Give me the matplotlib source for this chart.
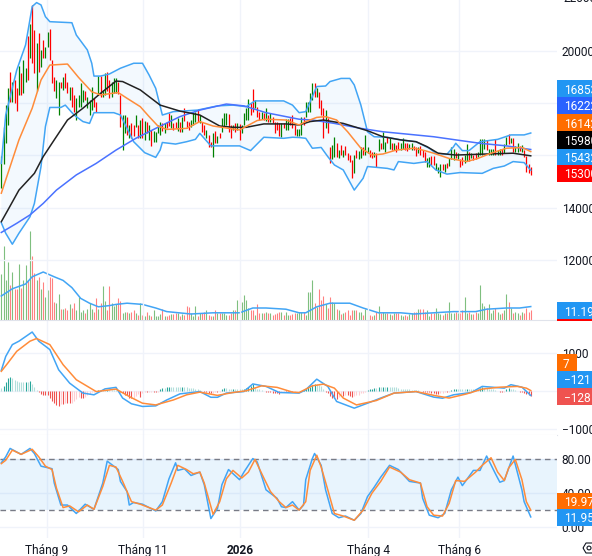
import numpy as np
import matplotlib
matplotlib.use("Agg")
import matplotlib.pyplot as plt
from matplotlib.patches import Rectangle, Polygon, Circle

plt.rcParams['font.family'] = ['Roboto', 'DejaVu Sans']

# Daily bars: G up, R down
bar_dirs = ("GGGGRGRRGR" "GGRGRRGRGR" "GGRRRGGRGR" "RGRRGGGGRG" "GGRRGRGGRR"
            "GGGRRGGRGR" "RGRGRGRGRG" "GGGRGRRGRR" "GRGRRRGGGR" "GRRGRRGRGR"
            "GGGRRGRGRG" "GGGRRGRRGR" "GRGRRRRGRG" "GRRRGG" "GRGG"
            "GGRGRRRGRR" "GGRGRGRRRR" "GRGGRGGRRG" "RGRGGRGRGR" "RGGRRGGRRG"
            "RRRGGRRGGG" "RGRGGGRGRR" "GGRGRRGGGG" "RGGGRGGRGG" "RGRGGRGRRRR")

high = [15970, 17100, 17930, 18560, 19190, 18820, 18880, 18560, 19430, 19160,
        19650, 19330, 20560, 21020, 21750, 20790, 20280, 20670, 20030, 20410,
        20160, 20700, 20830, 19650, 19010, 18880, 18820, 18820, 18980, 19140,
        18820, 18600, 18600, 18310, 18180, 18310, 18750, 18500, 18440, 18240,
        18120, 18630, 18180, 18050, 19030, 19030, 18500, 19160, 19200, 18880,
        18820, 18940, 18940, 18820, 18310, 17540, 17540, 17450, 17160, 17220,
        17160, 17540, 17160, 17350, 17410, 17330, 17290, 17160, 16970, 16940,
        16910, 17160, 17290, 17220, 17250, 17290, 17610, 17540, 17220, 17290,
        17410, 17290, 17480, 17800, 17330, 17290, 17350, 17670, 17670, 17760,
        17540, 17290, 17160, 16970, 16780, 16520, 16840, 16930, 16720, 16840,
        17410, 17630, 17630, 17570, 17160, 17160, 17220, 17220, 17200, 17160,
        17610, 17800, 18140, 17990, 18520, 18120, 17860, 17670, 17670, 17610,
        17800, 17540, 17610, 17480, 17290, 17290, 17220, 17220, 17220, 17380,
        17380, 17410, 17540, 17160, 16990, 16990, 17480, 17480, 18050, 18050,
        18370, 18750, 18780, 18560, 18430, 18110, 17800, 17730, 17410, 16330,
        16390, 16690, 16460, 16200, 16390, 16200, 16350, 16070, 16010, 15820,
        16010, 16200, 16180, 16330, 16300, 16780, 16330, 16200, 16140, 16140,
        16070, 16610, 16480, 16900, 16520, 16710, 16650, 16460, 16460, 16390,
        16520, 16460, 16650, 16460, 16460, 16430, 16460, 16350, 16330, 16300,
        16350, 16200, 16140, 15880, 15950, 15970, 15970, 15690, 15560, 15670,
        15670, 15670, 15690, 15880, 16300, 16260, 16140, 16070, 15840, 15950,
        16010, 16430, 16140, 16070, 16010, 16100, 16140, 16610, 16610, 16610,
        16580, 16230, 16260, 16230, 16610, 16200, 16260, 16230, 16430, 16690,
        16810, 16650, 16650, 16350, 16480, 16350, 16390, 16200, 15970, 15670,
        15540]

low = [14740, 15670, 16460, 17160, 18050, 18050, 18010, 17710, 18310, 18310,
       18370, 18820, 18880, 19710, 19540, 19160, 18440, 19200, 19390, 19710,
       19710, 20160, 19650, 18750, 18440, 18180, 17540, 18560, 18500, 18560,
       18370, 18120, 17860, 17670, 17350, 17860, 17860, 18050, 18120, 17800,
       17540, 17730, 17860, 17670, 18310, 18240, 18240, 18310, 18440, 18180,
       18240, 18400, 18400, 18350, 17100, 16200, 16840, 16780, 16650, 16650,
       16720, 17100, 16650, 16650, 16650, 16590, 16840, 16590, 16370, 16490,
       16490, 16840, 16780, 16940, 16840, 17030, 17120, 17030, 16970, 17030,
       16940, 16910, 16910, 17330, 17030, 16970, 17100, 17160, 17290, 17290,
       17250, 16910, 16780, 16650, 16300, 16330, 15920, 16460, 16460, 16650,
       16910, 17120, 17160, 16910, 16650, 16970, 16910, 16970, 16590, 16840,
       17160, 17350, 17350, 17540, 17670, 17800, 17480, 17350, 17380, 17350,
       17330, 17290, 17290, 17220, 16840, 16970, 16720, 16690, 17030, 16970,
       16970, 17160, 17030, 16780, 16720, 16720, 16780, 17160, 17480, 17670,
       17670, 18110, 18240, 18240, 17800, 17540, 16650, 17030, 16840, 15690,
       15840, 15950, 15950, 15880, 16010, 15950, 16010, 15820, 15760, 15120,
       15310, 15880, 15840, 15880, 16010, 16010, 16070, 15950, 15880, 15950,
       15560, 16180, 16260, 16260, 16140, 16460, 16260, 16200, 16200, 16140,
       16260, 16200, 16260, 16200, 16180, 16230, 16200, 16200, 15970, 16070,
       16010, 15950, 15760, 15540, 15540, 15630, 15630, 15440, 15310, 15180,
       15440, 15370, 15500, 15590, 15840, 15820, 15880, 15840, 15560, 15630,
       15690, 15790, 15790, 15880, 15820, 15840, 15950, 16010, 16010, 16260,
       16200, 16010, 16010, 16030, 16010, 16010, 16010, 16010, 16100, 16390,
       16430, 16460, 16140, 16140, 16140, 16180, 16140, 15950, 15370, 15330,
       15240]

# Volume in millions
volume = [38, 62, 33, 48, 29, 40, 26, 26, 47, 27, 33, 46, 33, 74, 53, 39, 33, 36, 26, 32,
          19, 25, 36, 35, 15, 14, 22, 9, 9, 10, 8, 13, 10, 14, 8, 19, 7, 8, 6, 9,
          14, 9, 7, 18, 9, 14, 28, 16, 8, 28, 14, 12, 13, 18, 16, 6, 7, 7, 6, 7,
          8, 6, 4, 14, 4, 3, 7, 4, 3, 8, 3, 3, 5, 9, 3, 3, 4, 5, 5, 6,
          6, 3, 5, 4, 12, 11, 6, 3, 12, 3, 6, 6, 7, 8, 4, 3, 3, 8, 6, 6,
          6, 6, 4, 4, 6, 8, 8, 17, 19, 15, 21, 17, 10, 8, 8, 4, 13, 6, 6, 6,
          7, 6, 6, 4, 5, 6, 7, 7, 4, 7, 4, 4, 5, 6, 6, 7,
          7, 7, 4, 23, 23, 33, 14, 11, 26, 17, 20, 13, 10, 19, 15, 14, 9, 8, 5, 6,
          7, 8, 4, 8, 8, 8, 7, 7, 4, 9, 8, 4, 3, 4, 7, 12, 6, 7, 6, 6,
          5, 4, 6, 6, 6, 4, 3, 4, 3, 5, 6, 7, 7, 9, 9, 9, 7, 8, 3, 6,
          6, 10, 6, 5, 4, 6, 6, 15, 6, 6, 7, 6, 6, 8, 19, 6, 7, 5, 5, 7, 6, 29,
          14, 12, 10, 13, 6, 8, 10, 7, 5, 6, 8, 22, 15, 10, 6, 7, 6, 4, 7, 6,
          10, 7, 8]

# MACD histogram, one value per bar
macd_hist = [70, 130, 220, 330, 350, 330, 290, 250, 220, 220, 220, 240, 220, 250, 190, 90, 20,
             -40, -90, -120, -120, -120, -180, -260, -330, -370, -390, -350, -350, -330, -330,
             -330, -310, -260, -220, -160, -180, -180, -160, -110, -90, -40, -20, 0, 20, 20, 20,
             20, 30, 30, 20, 20, 20, 10, -40, -70, -110, -120, -180, -190, -180, -130, -90, -160,
             -50, -40, -40, -30, -20, -40, -40, -20, 50, 70, 70, 90, 110, 110, 110, 110, 110, 90,
             110, 110, 90, 70, 70, 70, 50, 40, 20, 0, -30, -40, -50, -70, -50, -40, -40, -20,
             40, 70, 70, 50, 40, 50, 50, 50, 40, 40, 50, 70, 110, 120, 180, 90, 60, 40, 30, 0,
             -30, -40, -40, -70, -70, -70, -90, -40, -30, -30, -40, -30, -30, -20, -10, -10,
             0, 20, 40, 90, 110, 160, 180, 180, 160, 120, 40, -30, -70, -130, -180, -190, -220,
             -160, -120, -140, -120, -120, -130, -150, -140, -120, -110, -70, -50, -30, 20, 40, 50,
             70, 70, 90, 90, 100, 100, 110, 110, 110, 90, 90, 70, 60, 50, 40, 40, 40, 30, 30, 20,
             10, -10, -20, -30, -30, -40, -50, -70, -90, -90, -70, -60, -40, -40, -20, 20, 50, 60,
             50, 40, 40, 40, 50, 40, 40, 40, 40, 40, 70, 90, 80, 70, 50, 40, 40, 20, 0, -20, -30,
             -20, 40, 70, 50, 40, 30, 0, -30, -40, -60, -80, -110, -128]

# Bollinger bands, moving averages: (bar number, value)
bb_upper_x = [0, 2, 7, 11, 14, 16, 18, 20, 22, 32, 34, 39, 41, 42, 45, 49, 54, 60, 64, 67, 70, 73,
              78, 89, 98, 105, 111, 115, 128, 132, 135, 138, 141, 143, 147, 149, 154, 158, 160,
              163, 166, 169, 175, 181, 188, 194, 197, 202, 205, 206, 209, 212, 217, 225, 231, 237, 240]
bb_upper = [15690, 17540, 19260, 20220, 21690, 21840, 21750, 21300, 21110, 21070, 20600, 20030,
            19520, 19030, 19030, 19110, 19330, 19520, 19520, 19070, 18560, 17540, 17670, 17730,
            17890, 17920, 17860, 18080, 18080, 17920, 17630, 17670, 18240, 18630, 18650, 18820,
            18940, 18940, 18690, 17920, 16900, 16710, 16690, 16590, 16520, 16270, 16080, 16040,
            16330, 16460, 16180, 16180, 16520, 16610, 16780, 16780, 16853]

bb_lower_x = [0, 2, 5, 8, 13, 15, 18, 20, 22, 27, 29, 33, 37, 40, 42, 51, 54, 60, 65, 70, 72, 73,
              79, 84, 88, 90, 95, 108, 113, 119, 128, 132, 135, 138, 141, 145, 148, 151, 155, 160,
              164, 166, 170, 175, 178, 180, 187, 193, 197, 202, 208, 218, 223, 228, 232, 237, 240]
bb_lower = [13420, 13020, 12600, 13020, 13650, 14160, 15570, 17100, 17830, 17830, 17920, 17540,
            17290, 17220, 17630, 17630, 17540, 16520, 16100, 15920, 16200, 16490, 16430, 16520,
            16610, 16840, 16360, 16360, 16180, 16690, 16650, 16690, 16680, 16650, 16270, 16300,
            15950, 15630, 15440, 14670, 15120, 15570, 15540, 15500, 15440, 15760, 15690, 15760,
            15440, 15280, 15340, 15310, 15500, 15590, 15760, 15720, 15432]

ma20_x = [0, 4, 8, 14, 18, 22, 30, 35, 41, 45, 53, 57, 63, 67, 71, 75, 84, 90, 96, 108, 116, 120,
          129, 135, 138, 143, 147, 152, 157, 163, 168, 173, 179, 187, 191, 196, 203, 211, 216,
          222, 229, 236, 240]
ma20 = [14550, 15570, 16590, 17800, 18880, 19450, 19490, 18980, 18430, 18310, 18400, 18180, 17860,
        17480, 17120, 16990, 17030, 17290, 17120, 16970, 17330, 17380, 17350, 17160, 17290, 17450,
        17480, 17350, 16900, 16270, 16010, 16050, 16200, 16270, 16200, 16080, 15880, 15760, 15880,
        16080, 16270, 16300, 16142]

ma50_x = [0, 3, 8, 15, 19, 24, 30, 37, 45, 52, 55, 63, 72, 81, 90, 99, 105, 111, 119, 129, 135,
          140, 146, 155, 166, 173, 181, 188, 193, 198, 206, 220, 232, 240]
ma50 = [13460, 13910, 14670, 15310, 15950, 16590, 17350, 17800, 18370, 18840, 18820, 18500, 17920,
        17690, 17540, 17120, 17070, 17070, 17200, 17200, 17160, 17290, 17350, 17220, 16940, 16710,
        16590, 16520, 16330, 16080, 16010, 16050, 16080, 15980]

ma200_x = [0, 7, 13, 19, 25, 34, 43, 52, 61, 70, 81, 90, 102, 110, 120, 135, 141, 151, 163, 173,
           184, 196, 206, 217, 229, 240]
ma200 = [13050, 13400, 13720, 14160, 14670, 15250, 15690, 16200, 16650, 17030, 17480, 17730, 17960,
         17890, 17630, 17380, 17350, 17220, 17030, 16900, 16810, 16710, 16590, 16460, 16360, 16222]

vol_ma_x = [0, 5, 11, 14, 19, 24, 28, 32, 36, 40, 44, 49, 52, 57, 64, 70, 75, 86, 96, 108, 114,
            120, 129, 135, 138, 143, 149, 158, 164, 171, 181, 187, 196, 205, 215, 220, 229, 235, 240]
vol_ma = [20, 26, 30, 36, 40, 36, 33, 27, 18, 14, 11, 12, 13, 14, 13, 10, 7, 5, 6, 6, 10,
          10, 9, 6, 6, 11, 14, 14, 10, 6, 6, 5, 6, 7, 7, 9, 10, 10, 11.19]

macd_x = [0, 2, 5, 8, 14, 17, 22, 26, 31, 37, 42, 47, 52, 55, 59, 64, 70, 75, 81, 90, 95, 98, 102,
          110, 114, 120, 126, 135, 138, 143, 148, 152, 160, 166, 172, 178, 188, 196, 200, 205, 213,
          218, 228, 231, 236, 240]
macd_line = [535, 900, 1210, 1300, 1540, 1300, 1080, 550, 200, -60, -105, 50, 90, -190, -340, -410,
             -395, -240, -80, -20, -170, -170, -60, -20, 180, 115, -45, -60, 25, 305, 115, -280,
             -455, -325, -190, -60, -20, -165, -195, -105, -45, 115, 70, 160, 95, -121]

signal_x = [0, 3, 7, 13, 16, 22, 28, 34, 43, 52, 58, 64, 70, 78, 84, 90, 98, 105, 111, 118, 125,
            132, 135, 141, 146, 151, 155, 161, 170, 178, 188, 197, 203, 211, 218, 226, 234, 238, 240]
signal_line = [510, 730, 1035, 1300, 1370, 1210, 685, 290, -20, 45, -150, -325, -370, -240, -105,
               -35, -120, -45, 0, 130, 90, -35, -45, 130, 175, 70, -190, -370, -255, -60, -20,
               -130, -190, -80, 45, 95, 115, 70, 7]

stoch_k_x = [0, 2, 4, 9, 13, 15, 18, 23, 24, 27, 30, 34, 38, 42, 46, 48, 53, 54, 57, 58, 60, 64,
             70, 73, 76, 79, 80, 83, 86, 90, 92, 95, 98, 100, 103, 108, 110, 114, 116, 120, 125,
             127, 129, 132, 135, 137, 138, 141, 142, 145, 147, 150, 153, 156, 160, 163, 166, 169,
             172, 176, 180, 185, 190, 191, 194, 198, 201, 204, 207, 209, 214, 217, 220, 224, 226,
             228, 232, 236, 237, 240]
stoch_k = [76, 83, 93, 86, 93, 87, 72, 69, 52, 26, 26, 16, 27, 21, 52, 78, 68, 54, 42, 26, 29, 27,
           19, 30, 57, 76, 67, 69, 61, 65, 50, 10, 22, 50, 68, 56, 65, 81, 77, 44, 34,
           24, 23, 30, 20, 26, 56, 81, 87, 73, 44, 16, 11, 13, 8, 16, 36, 47,
           59, 73, 68, 54, 52, 34, 14, 11, 16, 44, 59, 49, 67, 67, 84, 63, 53,
           55, 84, 44, 30, 11.95]

stoch_d_x = [0, 2, 5, 9, 14, 17, 20, 23, 25, 28, 31, 35, 39, 42, 46, 49, 52, 55, 59, 63, 70, 73,
             77, 80, 84, 87, 90, 92, 96, 99, 102, 105, 109, 112, 115, 119, 122, 126, 129, 132, 135,
             138, 140, 143, 145, 148, 151, 155, 160, 164, 168, 172, 176, 181, 185, 190, 193, 196,
             200, 203, 206, 210, 215, 218, 222, 225, 228, 230, 233, 236, 238, 240]
stoch_d = [75, 79, 91, 86, 92, 83, 72, 68, 46, 23, 25, 18, 26, 21, 48, 73, 71, 54, 30, 27, 20, 26,
           52, 73, 68, 63, 65, 52, 15, 30, 57, 67, 58, 65, 80, 58, 42, 30, 23, 26, 20,
           30, 67, 85, 71, 44, 16, 13, 8, 20, 40, 54, 71, 65, 56, 52, 24, 14,
           13, 28, 55, 54, 65, 73, 82, 65, 55, 70, 80, 56, 30, 19.97]

tick_bars = [20.6, 64.3, 108.3, 166.4, 207.6]
tick_names = ["Tháng 9", "Tháng 11", "2026", "Tháng 4", "Tháng 6"]

# all per-bar lists must line up
lengths = {"high": len(high), "low": len(low), "volume": len(volume), "hist": len(macd_hist), "dirs": len(bar_dirs),
           "uppr": len(bb_upper) - len(bb_upper_x), "lowr": len(bb_lower) - len(bb_lower_x),
           "m20": len(ma20) - len(ma20_x), "m50": len(ma50) - len(ma50_x), "m200": len(ma200) - len(ma200_x),
           "vm": len(vol_ma) - len(vol_ma_x), "macd": len(macd_line) - len(macd_x),
           "sig": len(signal_line) - len(signal_x), "k": len(stoch_k) - len(stoch_k_x), "d": len(stoch_d) - len(stoch_d_x)}
bad = {k: v for k, v in lengths.items() if v not in (241, 0)}
if bad:
    raise ValueError(f"lengths off: {bad}")

W, H = 592, 556
PANE_RIGHT = 557
GRID = "#f0f3fa"
SEP = "#e0e3eb"
TEXT = "#131722"
XLIM = (-0.59, 251.9)


def make_axes(top, bottom):
    ax = fig.add_axes([0, 1 - bottom / H, PANE_RIGHT / W, (bottom - top) / H])
    ax.set_xlim(*XLIM)
    ax.set_xticks(tick_bars)
    ax.set_xticklabels([])
    ax.tick_params(length=0, labelsize=8.6, labelcolor=TEXT)
    ax.yaxis.tick_right()
    ax.grid(True, color=GRID, linewidth=1)
    ax.set_axisbelow(True)
    for s in ax.spines.values():
        s.set_visible(False)
    return ax


def tag(x0, y0, y1, color, label, txt_color="white"):
    # price tag on the right scale, given in pixels from the top left
    fig.add_artist(Rectangle((x0 / W, 1 - y1 / H), (W - x0 + 2) / W, (y1 - y0) / H,
                             facecolor=color, edgecolor="none", zorder=5))
    fig.text((x0 + 7) / W, 1 - (y0 + y1) / 2 / H, label, color=txt_color, fontsize=8.6,
             va="center_baseline", ha="left", zorder=6)


fig = plt.figure(figsize=(W / 100, H / 100), dpi=100, facecolor="white")
bars = np.arange(241)
up = np.array([c == "G" for c in bar_dirs])

# Price pane with volume underneath
ax_vol = fig.add_axes([0, 1 - 320 / H, PANE_RIGHT / W, 320 / H], zorder=1)
ax_vol.set_xlim(*XLIM)
ax_vol.set_ylim(0, 320 / 1.2)
ax_vol.axis("off")
ax_vol.vlines(bars[up], 0, np.array(volume)[up], color="#7fbf7f", linewidth=0.8)
ax_vol.vlines(bars[~up], 0, np.array(volume)[~up], color="#ff8080", linewidth=0.8)
ax_vol.plot(vol_ma_x, vol_ma, color="#42a5f5", linewidth=1.1)

ax = make_axes(0, 320)
ax.set_zorder(2)
ax.patch.set_visible(False)
ax.set_ylim(9702, 21939)
ax.set_yticks([20000, 18000, 16000, 14000, 12000])
ax.set_yticklabels(["20000", "", "", "14000", "12000"])
ax.spines["bottom"].set_visible(True)
ax.spines["bottom"].set_color(SEP)

ax.fill(np.r_[bb_upper_x, bb_lower_x[::-1]], np.r_[bb_upper, bb_lower[::-1]],
        color="#2196f3", alpha=0.05, linewidth=0)
ax.vlines(bars[up], np.array(low)[up], np.array(high)[up], color="#008000", linewidth=0.9)
ax.vlines(bars[~up], np.array(low)[~up], np.array(high)[~up], color="#ff0000", linewidth=0.9)
ax.plot(bb_upper_x, bb_upper, color="#42a5f5", linewidth=1.1)
ax.plot(bb_lower_x, bb_lower, color="#42a5f5", linewidth=1.1)
ax.plot(ma200_x, ma200, color="#4a72ff", linewidth=1.1)
ax.plot(ma50_x, ma50, color="#222222", linewidth=1.1)
ax.plot(ma20_x, ma20, color="#ff8c3a", linewidth=1.1)

# MACD pane
ax_macd = make_axes(320.5, 435)
ax_macd.set_ylim(-1158, 1842)
ax_macd.set_yticks([1000, 0, -1000])
ax_macd.set_yticklabels(["1000", "", "\u22121000"])
hist = np.array(macd_hist)
prev = np.r_[hist[0], hist[:-1]]
hist_colors = np.where(hist >= 0, np.where(hist > prev, "#26a69a", "#b2dfdb"),
                       np.where(hist > prev, "#ffcdd2", "#ef5350"))
ax_macd.vlines(bars, 0, hist, colors=hist_colors, linewidth=0.8)
ax_macd.plot(macd_x, macd_line, color="#42a5f5", linewidth=1.1)
ax_macd.plot(signal_x, signal_line, color="#ff8c3a", linewidth=1.1)
ax_macd.spines["bottom"].set_visible(True)
ax_macd.spines["bottom"].set_color(SEP)

# Stochastic pane
ax_st = make_axes(435, 538)
ax_st.set_ylim(-13, 108.9)
ax_st.set_yticks([80, 40, 0])
ax_st.set_yticklabels(["80.00", "40.00", "0.00"])
ax_st.axhspan(20, 80, color="#2196f3", alpha=0.1, linewidth=0)
ax_st.axhline(80, color="#787b86", linewidth=1, dashes=(4, 3))
ax_st.axhline(20, color="#787b86", linewidth=1, dashes=(4, 3))
ax_st.plot(stoch_k_x, stoch_k, color="#42a5f5", linewidth=1.1)
ax_st.plot(stoch_d_x, stoch_d, color="#ff8c3a", linewidth=1.1)
ax_st.set_xticklabels(tick_names)
ax_st.tick_params(axis="x", pad=4)
ax_st.get_xticklabels()[2].set_fontweight("bold")

# Right scale tags
fig.text(563 / W, 1 + 1 / H, "22000", fontsize=8.6, color=TEXT, va="center", zorder=4)
tag(557, 80, 97, "#2196f3", "16853")
tag(557, 97, 114, "#2962ff", "16222")
tag(557, 114, 131, "#ff6d00", "16142")
tag(557, 131, 149, "#000000", "15980")
tag(557, 149, 166, "#2196f3", "15432")
tag(557, 165, 182, "#ff0000", "15300")
tag(557, 302, 319, "#2196f3", "11.19")
fig.add_artist(Rectangle((557 / W, 1 - 320.5 / H), 35 / W, 1.5 / H, facecolor="#ff0000",
                         edgecolor="none", zorder=5))
tag(557, 371, 388, "#2196f3", "\u2212121")
tag(557, 388, 405, "#ef5350", "\u2212128")
fig.add_artist(Rectangle((557 / W, 1 - 371 / H), 20 / W, 17 / H, facecolor="#ff6d00",
                         edgecolor="none", zorder=5))
fig.text(563 / W, 1 - 362.5 / H, "7", color="white", fontsize=8.6, va="center_baseline", zorder=6)
tag(557, 493, 509, "#ff6d00", "19.97")
tag(557, 509, 526, "#2196f3", "11.95")

# Small chart settings button in the corner
fig.add_artist(Polygon([(583 / W, 1 - 548 / H), (586 / W, 1 - 543 / H), (594 / W, 1 - 543 / H),
                        (594 / W, 1 - 553 / H), (586 / W, 1 - 553 / H)], closed=True,
                       fill=False, edgecolor="#131722", linewidth=0.8, zorder=6))
fig.add_artist(Circle((589 / W, 1 - 548 / H), 2 / W, fill=False, edgecolor="#131722",
                      linewidth=0.8, zorder=6))

fig.savefig("out.png", dpi=100)
